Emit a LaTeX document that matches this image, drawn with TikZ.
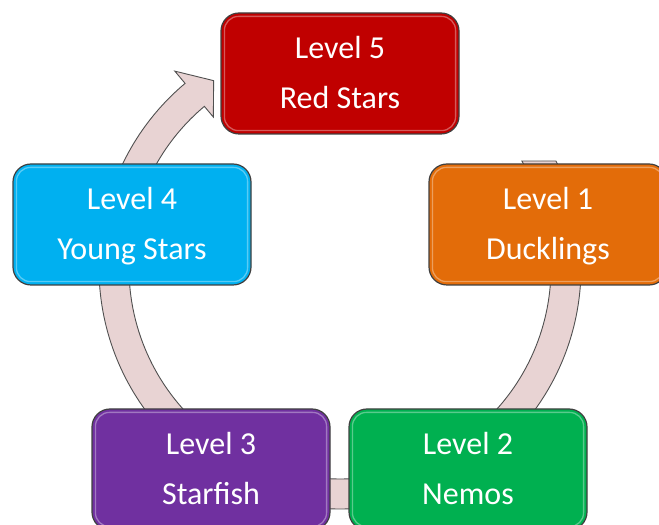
\documentclass[tikz,border=0pt]{standalone}
\usepackage{fontspec}
\setmainfont{Carlito}
\definecolor{red5}{HTML}{C00000}
\definecolor{orange1}{HTML}{E36C09}
\definecolor{blue4}{HTML}{00B0F0}
\definecolor{purple3}{HTML}{7030A0}
\definecolor{green2}{HTML}{00B050}
\definecolor{ringfill}{RGB}{232,211,211}
\definecolor{ringline}{RGB}{80,80,80}
\definecolor{boxline}{RGB}{64,64,64}
\newcommand{\cycarrow}[3]{%
  \path[ring] ([shift={(O)}]#1:241) arc[start angle=#1,end angle=#2,radius=241]
    -- ([shift={(O)}]#2:257) -- ([shift={(O)}]#3:226) -- ([shift={(O)}]#2:197)
    -- ([shift={(O)}]#2:211) arc[start angle=#2,end angle=#1,radius=211] -- cycle;}
\newcommand{\boxgloss}[1]{%
  \draw[white, opacity=0.35, line width=1.3pt, rounded corners=14pt]
    ([shift={(4,-4)}]#1.north west) rectangle ([shift={(-4,4)}]#1.south east);}
\begin{document}
\begin{tikzpicture}[x=1pt,y=1pt,
  box/.style={draw=boxline, line width=1.2pt, rounded corners=18pt,
    minimum width=238pt, minimum height=121pt, inner sep=0pt},
  lbl/.style={text=white, font=\fontsize{32}{38}\selectfont, anchor=base, inner sep=0pt},
  ring/.style={fill=ringfill, draw=ringline, line width=0.9pt, line join=miter}]
\useasboundingbox (0,0) rectangle (659,525);
\clip (0,0) rectangle (659,525);
\coordinate (O) at (340,257);
% connectors (cycle arrows)
\cycarrow{170}{130}{124}
\cycarrow{230}{178}{172}
\cycarrow{280}{256}{250}
\cycarrow{0}{-50}{-56}
\path[ring] ([shift={(O)}]26.36:241) arc[start angle=26.36,end angle=10,radius=241]
  -- ([shift={(O)}]10:257) -- ([shift={(O)}]4:226) -- ([shift={(O)}]10:197)
  -- ([shift={(O)}]10:211) arc[start angle=10,end angle=30.47,radius=211] -- cycle;
% boxes
\node[box, fill=red5]    (n5) at (340,451.5) {};
\node[box, fill=orange1] (n1) at (548,300.5) {};
\node[box, fill=blue4]   (n4) at (132,300.5) {};
\node[box, fill=purple3] (n3) at (211,55.5) {};
\node[box, fill=green2]  (n2) at (468,55.5) {};
\boxgloss{n5}\boxgloss{n1}\boxgloss{n4}\boxgloss{n3}\boxgloss{n2}
% labels
\node[lbl] (t5a) at ([yshift=15pt]n5.center) {Level 5};
\node[lbl] (t5b) at ([yshift=-35pt]n5.center) {Red Stars};
\node[lbl] (t1a) at ([yshift=15pt]n1.center) {Level 1};
\node[lbl] (t1b) at ([yshift=-35pt]n1.center) {Ducklings};
\node[lbl] (t4a) at ([yshift=15pt]n4.center) {Level 4};
\node[lbl] (t4b) at ([yshift=-35pt]n4.center) {Young Stars};
\node[lbl] (t3a) at ([yshift=15pt]n3.center) {Level 3};
\node[lbl] (t3b) at ([yshift=-35pt]n3.center) {Starfish};
\node[lbl] (t2a) at ([yshift=15pt]n2.center) {Level 2};
\node[lbl] (t2b) at ([yshift=-35pt]n2.center) {Nemos};
\end{tikzpicture}
\end{document}
